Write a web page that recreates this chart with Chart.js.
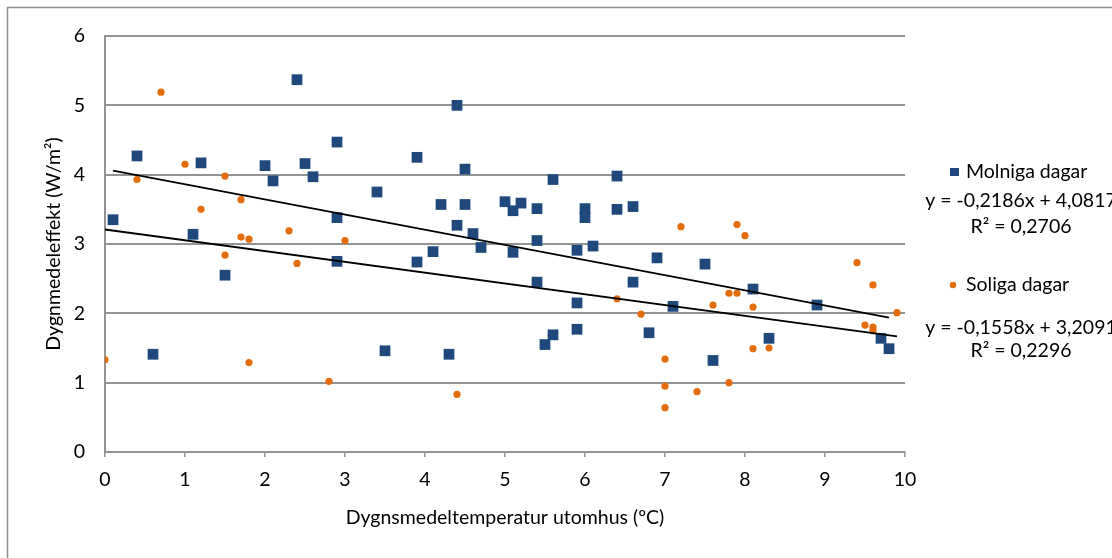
<!DOCTYPE html>
<html>
<head>
<meta charset="utf-8">
<script src="https://cdn.jsdelivr.net/npm/chart.js@4/dist/chart.umd.min.js"></script>
<style>
html,body{margin:0;padding:0;background:#fff;}
#wrap{width:1112px;height:558px;position:relative;overflow:hidden;}
</style>
</head>
<body>
<div id="wrap"><canvas id="c" width="1112" height="558"></canvas></div>
<script>
// ---- Data ----
const molnigaX = [0.1,0.4,0.6,1.1,1.2,1.5,2.0,2.1,2.4,2.5,2.6,2.9,2.9,2.9,3.4,3.5,3.9,3.9,4.1,4.2,4.3,4.4,4.4,4.5,4.5,4.6,4.7,5.0,5.1,5.1,5.2,5.4,5.4,5.4,5.5,5.6,5.6,5.9,5.9,5.9,6.0,6.0,6.1,6.4,6.4,6.6,6.6,6.8,6.9,7.1,7.5,7.6,8.1,8.3,8.9,9.7,9.8];
const molnigaY = [3.35,4.27,1.41,3.14,4.17,2.55,4.13,3.91,5.37,4.16,3.97,4.47,3.38,2.75,3.75,1.46,4.25,2.74,2.89,3.57,1.41,5.00,3.27,4.08,3.57,3.15,2.95,3.61,3.48,2.88,3.59,3.51,3.05,2.45,1.55,3.93,1.69,2.91,2.15,1.77,3.51,3.38,2.97,3.98,3.50,3.54,2.45,1.72,2.80,2.10,2.71,1.32,2.35,1.64,2.12,1.64,1.49];

const soligaX = [0.0,0.4,0.7,1.0,1.2,1.5,1.5,1.7,1.7,1.8,1.8,2.3,2.4,2.8,3.0,4.4,6.4,6.7,7.0,7.0,7.0,7.2,7.4,7.6,7.8,7.8,7.9,7.9,8.0,8.1,8.1,8.3,9.4,9.5,9.6,9.6,9.6,9.9];
const soligaY = [1.33,3.93,5.19,4.15,3.50,3.98,2.84,3.64,3.10,3.07,1.29,3.19,2.72,1.02,3.05,0.83,2.21,1.99,1.34,0.95,0.64,3.25,0.87,2.12,2.29,1.00,3.28,2.29,3.12,2.09,1.49,1.50,2.73,1.83,2.41,1.80,1.75,2.01];

// Trendline coefficients as printed in the chart
const molnigaSlope = -0.2186, molnigaIntercept = 4.0817, molnigaR2 = 0.2706;
const soligaSlope = -0.1558, soligaIntercept = 3.2091, soligaR2 = 0.2296;

const seriesNames = ["Molniga dagar", "Soliga dagar"];
const xTitle = "Dygnsmedeltemperatur utomhus (ºC)";
const yTitle = "Dygnmedeleffekt (W/m²)";

const BLUE = "#1F497D", ORANGE = "#E46C0A", GRID = "#939393";
const FONT = 'Lato, "Open Sans", "Liberation Sans", sans-serif';
const FS = 19.5;

function pts(xs, ys){ return xs.map((x,i)=>({x:x, y:ys[i]})); }
function trend(xs, m, b){
  const lo = Math.min(...xs), hi = Math.max(...xs);
  return [{x:lo, y:m*lo+b},{x:hi, y:m*hi+b}];
}
function num(v){ return v.toFixed(4).replace('.', ','); }
function eqText(m, b){ return "y = " + num(m) + "x + " + num(b); }
function r2Text(r){ return "R² = " + num(r); }

const frameAndLegend = {
  id: 'frameAndLegend',
  afterDraw(chart){
    const ctx = chart.ctx;
    ctx.save();
    // chart-area frame (Excel style), only top/left visible
    ctx.strokeStyle = "#8f8f8f";
    ctx.lineWidth = 1.5;
    ctx.strokeRect(7.5, 7.5, 1300, 800);
    // legend + equations
    ctx.fillStyle = BLUE;
    ctx.fillRect(950, 168, 9, 8);
    ctx.fillStyle = ORANGE;
    ctx.beginPath(); ctx.arc(953, 285, 3.2, 0, Math.PI*2); ctx.fill();
    ctx.fillStyle = "#000";
    ctx.font = FS + "px " + FONT;
    ctx.textBaseline = "alphabetic";
    ctx.textAlign = "left";
    ctx.fillText(seriesNames[0], 966, 178);
    ctx.fillText(seriesNames[1], 966, 291);
    ctx.textAlign = "center";
    ctx.fillText(eqText(molnigaSlope, molnigaIntercept), 1021, 207);
    ctx.fillText(r2Text(molnigaR2), 1021, 233);
    ctx.fillText(eqText(soligaSlope, soligaIntercept), 1021, 334);
    ctx.fillText(r2Text(soligaR2), 1021, 357);
    ctx.restore();
  }
};

Chart.defaults.font.family = FONT;
Chart.defaults.font.size = FS;
Chart.defaults.color = "#000";

new Chart(document.getElementById('c'), {
  type: 'scatter',
  data: {
    datasets: [
      { label: seriesNames[0], data: pts(molnigaX, molnigaY), pointStyle: 'rect', pointRadius: 7.6, pointHoverRadius: 7.6,
        backgroundColor: BLUE, borderColor: BLUE, borderWidth: 0, order: 2 },
      { label: seriesNames[1], data: pts(soligaX, soligaY), pointStyle: 'circle', pointRadius: 3.6, pointHoverRadius: 3.6,
        backgroundColor: ORANGE, borderColor: ORANGE, borderWidth: 0, order: 3 },
      { type: 'line', label: 'trend1', data: trend(molnigaX, molnigaSlope, molnigaIntercept), borderColor: '#000', borderWidth: 1.8,
        pointRadius: 0, fill: false, order: 0 },
      { type: 'line', label: 'trend2', data: trend(soligaX, soligaSlope, soligaIntercept), borderColor: '#000', borderWidth: 1.8,
        pointRadius: 0, fill: false, order: 1 }
    ]
  },
  options: {
    responsive: false,
    animation: false,
    devicePixelRatio: 1,
    layout: { padding: { left: 0, right: 207, top: 36, bottom: 0 } },
    plugins: { legend: { display: false }, tooltip: { enabled: false } },
    scales: {
      x: {
        type: 'linear', min: 0, max: 10,
        ticks: { stepSize: 1, padding: 11, color: '#000' },
        grid: { drawOnChartArea: false, drawTicks: true, tickLength: 5, color: GRID, lineWidth: 1.5 },
        border: { display: true, color: GRID, width: 2 },
        title: { display: true, text: xTitle, color: '#000', padding: { top: 0, bottom: 29 } },
        afterFit(s){ s.height = 106; }
      },
      y: {
        min: 0, max: 6,
        ticks: { stepSize: 1, padding: 20, color: '#000' },
        grid: { drawTicks: false, color: GRID, lineWidth: 2 },
        border: { display: true, color: GRID, width: 2 },
        title: { display: true, text: yTitle, color: '#000', padding: { top: 42, bottom: 0 } },
        afterFit(s){ s.width = 105; }
      }
    }
  },
  plugins: [frameAndLegend]
});
</script>
</body>
</html>
